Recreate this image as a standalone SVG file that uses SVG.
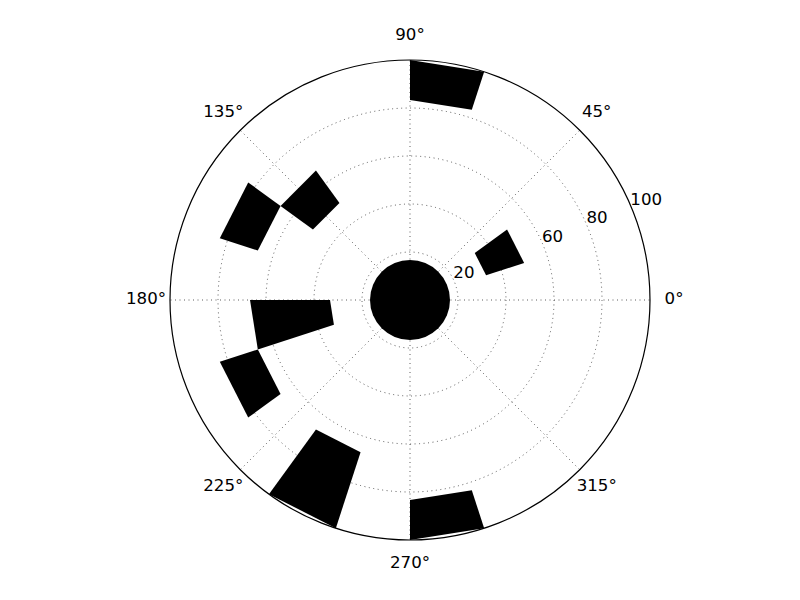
<svg xmlns="http://www.w3.org/2000/svg" width="800" height="600" viewBox="0 0 800 600">
<style>
.grid{fill:none;stroke:#333;stroke-width:0.8;stroke-dasharray:1 3.5}
.bar{fill:#000;stroke:none}
.tl{font-family:"DejaVu Sans","Liberation Sans",sans-serif;font-size:16.67px;fill:#000;text-anchor:middle}
.rl{font-family:"DejaVu Sans","Liberation Sans",sans-serif;font-size:16.67px;fill:#000;text-anchor:start}
</style>
<rect width="800" height="600" fill="#fff"/>
<g id="grid">
<circle class="grid" cx="410" cy="300" r="48"/>
<circle class="grid" cx="410" cy="300" r="96"/>
<circle class="grid" cx="410" cy="300" r="144"/>
<circle class="grid" cx="410" cy="300" r="192"/>
<line class="grid" x1="410" y1="300" x2="650" y2="300"/>
<line class="grid" x1="410" y1="300" x2="579.7" y2="130.3"/>
<line class="grid" x1="410" y1="300" x2="410" y2="60"/>
<line class="grid" x1="410" y1="300" x2="240.3" y2="130.3"/>
<line class="grid" x1="410" y1="300" x2="170" y2="300"/>
<line class="grid" x1="410" y1="300" x2="240.3" y2="469.7"/>
<line class="grid" x1="410" y1="300" x2="410" y2="540"/>
<line class="grid" x1="410" y1="300" x2="579.7" y2="469.7"/>
</g>
<g id="radial-labels">
<text class="rl" x="453.3" y="278.2">20</text>
<text class="rl" x="542" y="241.5">60</text>
<text class="rl" x="586.4" y="223.1">80</text>
<text class="rl" x="630.3" y="204.8">100</text>
</g>
<g id="bars">
<circle id="center" class="bar" cx="410" cy="300" r="40"/>
<polygon id="bar1" class="bar" points="486.08,275.28 524.13,262.92 507.08,229.47 474.72,252.98"/>
<polygon id="bar2" class="bar" points="471.80,109.79 484.16,71.75 410,60 410,100"/>
<polygon id="bar3" class="bar" points="339.47,202.92 315.95,170.56 280.56,205.95 312.92,229.47"/>
<polygon id="bar4" class="bar" points="280.56,205.95 248.20,182.44 219.79,238.20 257.83,250.56"/>
<polygon id="bar5" class="bar" points="330,300 250,300 257.83,349.44 333.92,324.72"/>
<polygon id="bar6" class="bar" points="257.83,349.44 219.79,361.80 248.20,417.56 280.56,394.05"/>
<polygon id="bar7" class="bar" points="315.95,429.44 268.93,494.16 335.84,528.25 360.56,452.17"/>
<polygon id="bar8" class="bar" points="410,500 410,540 484.16,528.25 471.80,490.21"/>
</g>
<circle id="frame" cx="410" cy="300" r="240" fill="none" stroke="#000" stroke-width="1.2"/>
<g id="angle-labels">
<text class="tl" x="674" y="304">0°</text>
<text class="tl" x="596.7" y="117.3">45°</text>
<text class="tl" x="410" y="40">90°</text>
<text class="tl" x="223.3" y="117.3">135°</text>
<text class="tl" x="146" y="304">180°</text>
<text class="tl" x="223.3" y="490.7">225°</text>
<text class="tl" x="410" y="568">270°</text>
<text class="tl" x="596.7" y="490.7">315°</text>
</g>
</svg>
